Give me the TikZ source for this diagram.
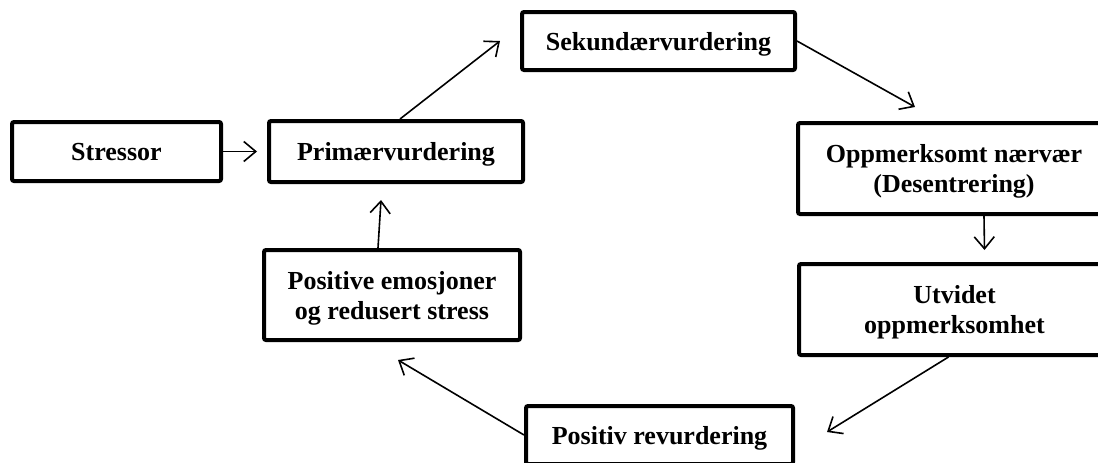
\documentclass[tikz,border=0pt]{standalone}
\usepackage{fontspec}
\setmainfont{Liberation Serif}
\usepackage{tikz}
\usetikzlibrary{positioning,arrows.meta}

\begin{document}
\begin{tikzpicture}[
  x=1pt, y=1pt,
  font=\bfseries\fontsize{26}{30}\selectfont,
  box/.style={draw, line width=4pt, rounded corners=2pt, align=center, inner sep=0pt, text depth=0pt, fill=white},
  arr/.style={-{Straight Barb[length=12pt, width=20pt]}, line width=1.6pt}]
\useasboundingbox (0,0) rectangle (1098,-463);
\clip (0,0) rectangle (1098,-463);
\node[box, minimum width=209pt, minimum height=59pt] (stressor) at (116.5,-151.5) {Stressor};
\node[box, minimum width=254pt, minimum height=61pt] (prim) at (396,-151.5) {Primærvurdering};
\node[box, minimum width=256pt, minimum height=90pt] (posemo) at (392,-295) {Positive emosjoner\\ og redusert stress};
\node[box, minimum width=273pt, minimum height=58pt] (sek) at (658.5,-41) {Sekundærvurdering};
\node[box, minimum width=312pt, minimum height=91pt] (oppm) at (954,-168.5) {Oppmerksomt nærvær\\ (Desentrering)};
\node[box, minimum width=311pt, minimum height=91pt] (utv) at (954.5,-309.5) {Utvidet\\ oppmerksomhet};
\node[box, minimum width=267pt, minimum height=58pt] (revurd) at (659.5,-435) {Positiv revurdering};
\draw[arr, shorten >=10pt] (stressor.east) -- (prim.west);
\draw[arr] ([xshift=4pt]prim.north) -- ([xshift=-20pt]sek.west);
\draw[arr] (sek.east) -- ([xshift=-39pt,yshift=14pt]oppm.north);
\draw[arr] ([xshift=30pt]oppm.south) -- ([xshift=30pt,yshift=12pt]utv.north);
\draw[arr] ([xshift=-6pt]utv.south) -- ([xshift=32pt,yshift=3pt]revurd.east);
\draw[arr] (revurd.west) -- ([xshift=6pt,yshift=-18pt]posemo.south);
\draw[arr] ([xshift=-14pt]posemo.north) -- ([xshift=-15pt,yshift=-16pt]prim.south);
\end{tikzpicture}
\end{document}
